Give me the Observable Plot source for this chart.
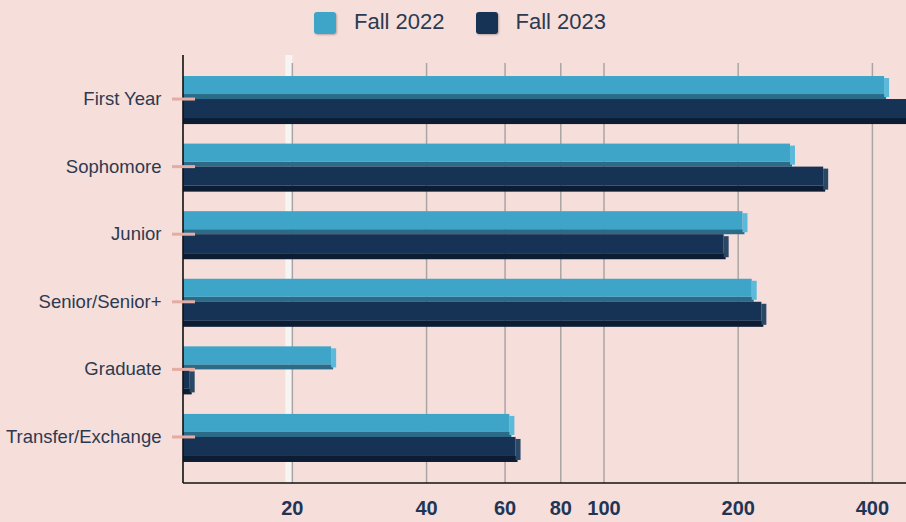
<!DOCTYPE html>
<html>
<head>
<meta charset="utf-8">
<script src="https://cdn.jsdelivr.net/npm/d3@7"></script>
<script src="https://cdn.jsdelivr.net/npm/@observablehq/plot@0.6"></script>
<style>
  html, body { margin: 0; padding: 0; background: #f6dedb; }
  body { width: 906px; height: 522px; overflow: hidden; font-family: "Liberation Sans", Arial, sans-serif; }
  #legend { height: 45px; display: flex; align-items: center; padding-left: 314px; padding-bottom: 2px; box-sizing: border-box; }
  .sw { width: 22px; height: 22px; border-radius: 3px; margin-right: 18px; margin-top: 3px; box-shadow: 1px 1px 2px rgba(0,0,0,0.25); }
  .lab { font-size: 22px; color: #2c3a50; margin-right: 31px; line-height: 22px; }
  #chart svg { display: block; }
</style>
</head>
<body>
<div id="legend"></div>
<div id="chart"></div>
<script>
// ---- data ----
const categories = ["First Year", "Sophomore", "Junior", "Senior/Senior+", "Graduate", "Transfer/Exchange"];
const seriesNames = ["Fall 2022", "Fall 2023"];
const fall2022 = [426, 262, 205, 215, 24.5, 61.5];
const fall2023 = [500, 311, 186, 226, 11.8, 63.5];
const xTicks = [20, 40, 60, 80, 100, 200, 400];
const xMin = 11.4, xMax = 477;

// ---- styles ----
const colors = { "Fall 2022": "#3ea5c8", "Fall 2023": "#163355" };
const stripColors = { "Fall 2022": "#2b6b87", "Fall 2023": "#0c1d33" };
const sideColors = { "Fall 2022": "#5cb9d9", "Fall 2023": "#2a4866" };

// legend
const legend = document.getElementById("legend");
seriesNames.forEach(s => {
  const sw = document.createElement("div");
  sw.className = "sw"; sw.style.background = colors[s];
  const lab = document.createElement("div");
  lab.className = "lab"; lab.textContent = s;
  legend.append(sw, lab);
});

const rows = categories.flatMap((c, i) => [
  { cat: c, series: "Fall 2022", v: fall2022[i] },
  { cat: c, series: "Fall 2023", v: fall2023[i] }
]);
const r22 = rows.filter(d => d.series === "Fall 2022");
const r23 = rows.filter(d => d.series === "Fall 2023");

function barSet(data, s, front, strip, side) {
  return [
    Plot.barX(data, { y: "cat", x1: () => xMin, x2: "v", fill: stripColors[s], insetTop: strip[0], insetBottom: strip[1], insetRight: -2, clip: true }),
    Plot.barX(data, { y: "cat", x1: "v", x2: "v", fill: sideColors[s], insetTop: side[0], insetBottom: side[1], insetRight: -5, clip: true }),
    Plot.barX(data, { y: "cat", x1: () => xMin, x2: "v", fill: colors[s], insetTop: front[0], insetBottom: front[1], clip: true })
  ];
}

const chart = Plot.plot({
  width: 906,
  height: 477,
  marginLeft: 183,
  marginRight: 0,
  marginTop: 10,
  marginBottom: 39,
  style: { background: "transparent", fontFamily: "'Liberation Sans', Arial, sans-serif" },
  x: { type: "log", domain: [xMin, xMax], axis: null },
  y: { domain: categories, paddingInner: 0.289, paddingOuter: 0.311, round: false, axis: null },
  marks: [
    Plot.ruleX([20], { stroke: "#f6f5f4", strokeWidth: 7, dx: -3.5 }),
    Plot.ruleX(xTicks, { stroke: "#aaa5a4", strokeWidth: 1.5, insetTop: 8 }),
    ...barSet(r22, "Fall 2022", [0, 30], [18, 25], [2, 27]),
    ...barSet(r23, "Fall 2023", [23, 6], [42, 0], [25, 2]),
    (index, scales, values, dims) => {
      const { width, height, marginLeft, marginTop, marginBottom, marginRight } = dims;
      const g = d3.create("svg:g").attr("stroke", "#111").attr("stroke-width", 1.6);
      g.append("line").attr("x1", marginLeft).attr("x2", marginLeft).attr("y1", marginTop).attr("y2", height - marginBottom);
      g.append("line").attr("x1", marginLeft).attr("x2", width - marginRight).attr("y1", height - marginBottom).attr("y2", height - marginBottom);
      return g.node();
    },
    Plot.axisY({ label: null, tickSize: 23, dx: 12, dy: -1.5, tickPadding: 11, stroke: "#e4aca3", strokeWidth: 3, fill: "#2c3a50", fontSize: 18.5 }),
    Plot.axisX({ label: null, ticks: xTicks, tickSize: 0, tickPadding: 17, fontSize: 20, fontWeight: "bold", fill: "#1f3555", tickFormat: d => String(d) })
  ]
});
document.getElementById("chart").append(chart);
</script>
</body>
</html>
